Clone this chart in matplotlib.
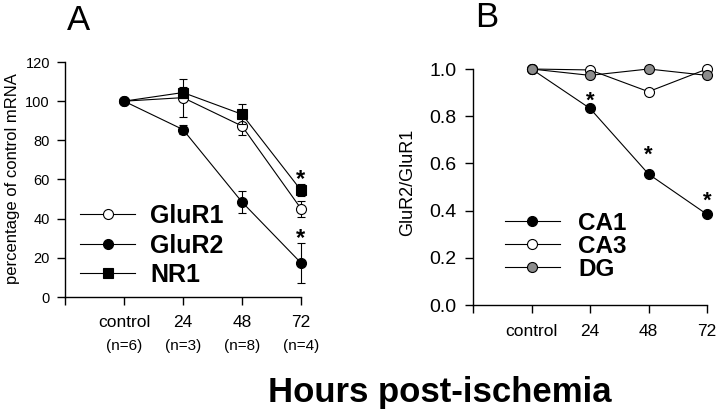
import numpy as np
import matplotlib.pyplot as plt
from matplotlib.lines import Line2D

plt.rcParams['font.family'] = ['Liberation Sans', 'DejaVu Sans']

# panel A: mRNA levels (% of control)
groups_a = ['control', '24', '48', '72']
n_labels = ['(n=6)', '(n=3)', '(n=8)', '(n=4)']
glur1 = [100, 101.8, 87.3, 45.1]
glur1_err = [0, 9.7, 4.7, 4.1]
glur2 = [100, 85.5, 48.5, 17.4]
glur2_err = [0, 2.5, 5.7, 10.0]
nr1 = [100, 104.4, 93.3, 54.5]
nr1_err = [0, 3.0, 5.0, 3.0]

# panel B: GluR2/GluR1 ratio
groups_b = ['control', '24', '48', '72']
ca1 = [1.0, 0.833, 0.555, 0.384]
ca3 = [1.0, 0.996, 0.904, 1.0]
dg = [1.0, 0.973, 1.0, 0.973]

x = np.arange(1, 5)

fig = plt.figure(figsize=(7.2, 4.11), dpi=100)
axA = fig.add_axes([65 / 720, 1 - 297 / 411, 236 / 720, 235 / 411])
axB = fig.add_axes([473 / 720, 1 - 305 / 411, 234 / 720, 236 / 411])

lw = 0.8
ms = 7.2


def style_axes(ax, pad_x, pad_y, ysize, xsize):
    for s in ['top', 'right']:
        ax.spines[s].set_visible(False)
    for s in ['left', 'bottom']:
        ax.spines[s].set_linewidth(1.0)
    ax.tick_params(direction='out', length=5.8, width=1.0)
    ax.tick_params(axis='x', pad=pad_x, labelsize=xsize)
    ax.tick_params(axis='y', pad=pad_y, labelsize=ysize)
    ax.set_xlim(0, 4)
    ax.set_xticks(np.arange(0, 5))


# ---- panel A ----
series_a = [
    (glur1, glur1_err, 'o', 'white', 'GluR1', 3),
    (nr1, nr1_err, 's', 'black', 'NR1', 4),
    (glur2, glur2_err, 'o', 'black', 'GluR2', 5),
]
for vals, err, mk, fc, lab, z in series_a:
    # control square sits hidden under the GluR2 circle in the original
    every = [1, 2, 3] if mk == 's' else None
    axA.errorbar(x, vals, yerr=err, color='black', lw=lw, elinewidth=lw,
                 capsize=2.8, capthick=lw, marker=mk, ms=ms if mk == 'o' else 6.6,
                 mfc=fc, mec='black', mew=0.8, markevery=every,
                 clip_on=False, zorder=z)

axA.set_ylim(0, 120)
axA.set_yticks(np.arange(0, 121, 20))
style_axes(axA, 7, 5, 10.5, 12.5)
axA.set_xticklabels([''] + groups_a)
for xi, lab in zip(x, n_labels):
    axA.text(xi, -0.2085, lab, transform=axA.get_xaxis_transform(),
             ha='center', va='center', fontsize=11)
axA.set_ylabel('percentage of control mRNA', fontsize=12)
axA.yaxis.set_label_coords(-0.19, 0.505)

# significance stars, panel A (72 h)
for vals, err in [(nr1, nr1_err), (glur2, glur2_err)]:
    axA.annotate('*', xy=(x[-1], vals[-1] + err[-1]), xytext=(0, -1),
                 textcoords='offset points', ha='center', va='baseline',
                 fontsize=17, fontweight='bold')

legend_order = [0, 2, 1]
handles_a = []
for i in legend_order:
    _, _, mk, fc, _, _ = series_a[i]
    handles_a.append(Line2D([], [], color='black', lw=lw, marker=mk,
                            ms=ms if mk == 'o' else 6.6, mfc=fc, mec='black', mew=0.8))
axA.legend(handles_a, [series_a[i][4] for i in legend_order], loc='upper left',
           bbox_to_anchor=(80 / 720, 1 - 204 / 411), bbox_transform=fig.transFigure,
           frameon=False, borderpad=0, borderaxespad=0, handlelength=2.2,
           handletextpad=0.6, labelspacing=0.22,
           prop={'size': 18, 'weight': 'bold'})

# ---- panel B ----
series_b = [
    (ca1, 'black', 'CA1'),
    (ca3, 'white', 'CA3'),
    (dg, '#8c8c8c', 'DG'),
]
for vals, fc, lab in series_b:
    axB.plot(x, vals, color='black', lw=lw, marker='o', ms=ms, mfc=fc,
             mec='black', mew=0.8, clip_on=False, zorder=3)

axB.set_ylim(0, 1.0)
axB.set_yticks(np.arange(0, 1.01, 0.2))
axB.yaxis.set_major_formatter(plt.FormatStrFormatter('%.1f'))
style_axes(axB, 8, 6, 14, 12.5)
axB.set_xticklabels([''] + groups_b)
axB.set_ylabel('GluR2/GluR1', fontsize=13)
axB.yaxis.set_label_coords(-0.245, 0.52)

star_gap = [13, 24, 19]  # px above CA1 point
for xi, v, g in zip(x[1:], ca1[1:], star_gap):
    axB.annotate('*', xy=(xi, v), xytext=(0, (g - 11) * 0.72),
                 textcoords='offset points', ha='center', va='baseline',
                 fontsize=16, fontweight='bold')

handles_b = [Line2D([], [], color='black', lw=lw, marker='o', ms=ms, mfc=fc,
                    mec='black', mew=0.8) for _, fc, _ in series_b]
axB.legend(handles_b, [s[2] for s in series_b], loc='upper left',
           bbox_to_anchor=(505 / 720, 1 - 212 / 411), bbox_transform=fig.transFigure,
           frameon=False, borderpad=0, borderaxespad=0, handlelength=2.25,
           handletextpad=0.75, labelspacing=0.0,
           prop={'size': 17.5, 'weight': 'bold'})

fig.text(67 / 720, 1 - 30 / 411, 'A', fontsize=25, va='baseline')
fig.text(475 / 720, 1 - 27 / 411, 'B', fontsize=25, va='baseline')
fig.text(440 / 720, 1 - 402 / 411, 'Hours post-ischemia', fontsize=25,
         fontweight='bold', ha='center', va='baseline')

fig.savefig('out.png', dpi=100)
